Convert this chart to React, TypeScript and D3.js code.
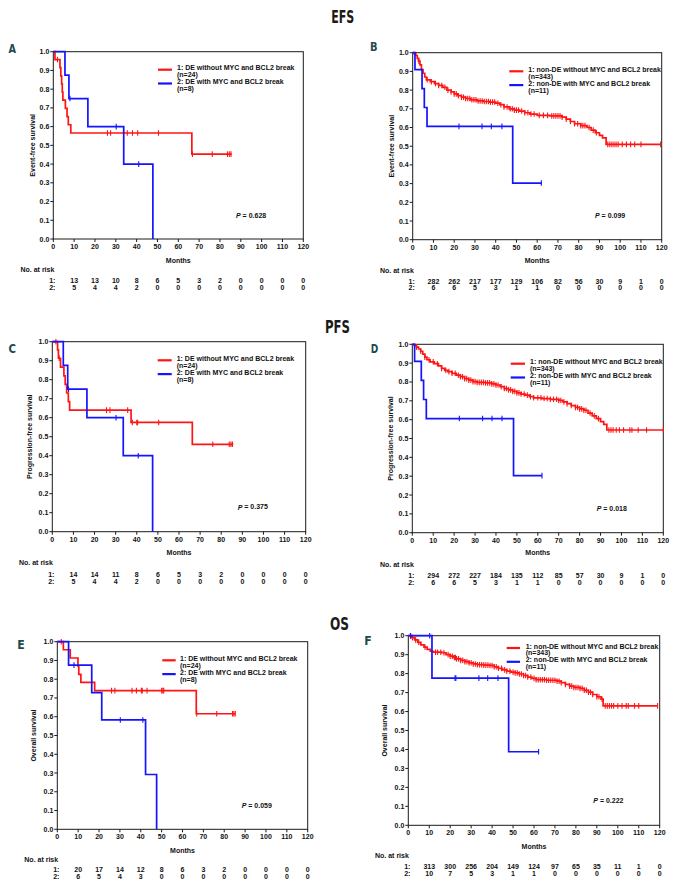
import React from "react";
import * as d3 from "d3";

type Pt = [number, number];

// ---------- shared ticks ----------
const xTicks = [0, 10, 20, 30, 40, 50, 60, 70, 80, 90, 100, 110, 120];
const yTicks = [0, 0.1, 0.2, 0.3, 0.4, 0.5, 0.6, 0.7, 0.8, 0.9, 1.0];
const riskTimes = [10, 20, 30, 40, 50, 60, 70, 80, 90, 100, 110, 120];

const sectionTitles = ["EFS", "PFS", "OS"];
const legendDE = ["1: DE without MYC and BCL2 break", "(n=24)", "2: DE with MYC and BCL2 break", "(n=8)"];
const legendNonDE = ["1: non-DE without MYC and BCL2 break", "(n=343)", "2: non-DE with MYC and BCL2 break", "(n=11)"];

// ---------- Panel A: EFS, DE ----------
const aRed: Pt[] = [[0, 1], [0.8, 0.958], [3.2, 0.915], [3.6, 0.871], [4.0, 0.828], [4.3, 0.784], [4.6, 0.741], [5.8, 0.697], [6.6, 0.653], [7.2, 0.61], [8.4, 0.566], [66.5, 0.453]];
const aRedEnd = 85.6;
const aRedCensor = [2, 26, 27.5, 35.5, 38, 40.5, 50.5, 66.8, 76.3, 83.6, 84.5, 85.3];
const aBlue: Pt[] = [[0, 1], [5.6, 0.875], [7.5, 0.75], [16.6, 0.6], [33.8, 0.4], [47.8, 0]];
const aBlueEnd = 47.8;
const aBlueCensor = [8, 30.2, 41];
const aRisk1 = [13, 13, 10, 8, 6, 5, 3, 2, 0, 0, 0, 0];
const aRisk2 = [5, 4, 4, 2, 0, 0, 0, 0, 0, 0, 0, 0];

// ---------- Panel B: EFS, non-DE ----------
const bRed: Pt[] = [[0, 1], [0.8, 0.994], [1.5, 0.985], [2.2, 0.97], [2.8, 0.955], [3.5, 0.935], [4.2, 0.91], [5, 0.89], [5.8, 0.87], [6.6, 0.855], [8.5, 0.845], [10.5, 0.835], [12.5, 0.825], [14.5, 0.815], [16.5, 0.8], [18.5, 0.79], [20, 0.78], [21.8, 0.77], [23.5, 0.762], [25.5, 0.755], [28, 0.748], [31, 0.742], [34, 0.739], [37, 0.736], [40, 0.73], [42, 0.722], [44, 0.71], [46.5, 0.7], [49, 0.693], [51.5, 0.688], [54, 0.679], [56.5, 0.672], [60, 0.665], [66, 0.662], [72, 0.655], [74, 0.645], [76, 0.632], [78, 0.62], [81, 0.61], [84, 0.6], [86, 0.586], [88, 0.572], [90, 0.558], [91.5, 0.545], [93.2, 0.51]];
const bRedEnd = 119.5;
const bRedCensor = [3, 7, 9, 11, 12.5, 14, 15.5, 17, 18.5, 20, 21, 22, 23.5, 24.5, 25.5, 26.5, 27.5, 28.5, 29.5, 30.5, 31.5, 32.5, 33.5, 34.5, 35.5, 36.5, 37.5, 38.5, 39.5, 41, 42.5, 44, 45.5, 47, 48, 49, 50, 51, 52.5, 54, 55.5, 57, 58.5, 61, 63, 65, 67, 68, 69, 70, 71, 72, 74, 76, 78, 79.5, 81, 82, 83, 85, 87, 88.5, 94, 95, 96, 97, 98, 99, 101, 103, 105, 107, 110, 119.5];
const bBlue: Pt[] = [[0, 1], [1.1, 0.909], [4.5, 0.808], [5.6, 0.707], [6.9, 0.606], [48.2, 0.303]];
const bBlueEnd = 62;
const bBlueCensor = [22.3, 33.4, 37.9, 43, 62];
const bRisk1 = [282, 262, 217, 177, 129, 106, 82, 56, 30, 9, 1, 0];
const bRisk2 = [6, 6, 5, 3, 1, 1, 0, 0, 0, 0, 0, 0];

// ---------- Panel C: PFS, DE ----------
const cRed: Pt[] = [[0, 1], [2.5, 0.957], [2.9, 0.913], [3.9, 0.866], [5.5, 0.82], [6.1, 0.775], [6.8, 0.73], [7.6, 0.685], [8.2, 0.64], [37.3, 0.575], [66.3, 0.46]];
const cRedEnd = 85.7;
const cRedCensor = [1.7, 3.3, 25.7, 27.3, 35.7, 37.9, 40, 40.4, 50.4, 76, 83.8, 84.6, 85.3];
const cBlue: Pt[] = [[0, 1], [5.2, 0.875], [7.3, 0.75], [16.4, 0.6], [33.6, 0.4], [47.5, 0]];
const cBlueEnd = 47.5;
const cBlueCensor = [7.7, 30.2, 40.7];
const cRisk1 = [14, 14, 11, 8, 6, 5, 3, 2, 0, 0, 0, 0];
const cRisk2 = [5, 4, 4, 2, 0, 0, 0, 0, 0, 0, 0, 0];

// ---------- Panel D: PFS, non-DE ----------
const dRed: Pt[] = [[0, 1], [1, 0.994], [2, 0.985], [3, 0.975], [4, 0.963], [5, 0.948], [6, 0.932], [7, 0.918], [8.5, 0.907], [10.5, 0.897], [12.5, 0.885], [14, 0.872], [15.5, 0.862], [17, 0.855], [19, 0.846], [21, 0.836], [23, 0.828], [25, 0.818], [27, 0.81], [29, 0.802], [31, 0.798], [35, 0.795], [38, 0.79], [40, 0.784], [42, 0.775], [44, 0.765], [46, 0.758], [48, 0.75], [50, 0.742], [52, 0.736], [54, 0.73], [56, 0.722], [58, 0.716], [62, 0.712], [66, 0.708], [70, 0.702], [72, 0.694], [74, 0.685], [76, 0.675], [78, 0.665], [80, 0.657], [82, 0.65], [84, 0.635], [86, 0.62], [88, 0.605], [90, 0.59], [91.5, 0.575], [93, 0.545]];
const dRedEnd = 120;
const dRedCensor = [2, 4, 6, 8, 10, 12, 14, 16, 17.5, 19, 20.5, 22, 23, 24, 25, 26, 27, 28, 29, 30, 31, 32, 33, 34, 35, 36, 37, 38, 39, 40, 41, 42.5, 44, 45, 46, 47, 48, 49, 50, 51, 52, 53.5, 55, 56.5, 58, 60, 61.5, 63, 64.5, 66, 67.5, 69, 70, 71, 72.5, 74, 76, 78, 79, 80, 81, 82, 83, 85, 87, 89, 94, 95, 96, 97.5, 99, 101, 104, 105, 108, 112, 120];
const dBlue: Pt[] = [[0, 1], [1.1, 0.909], [4.3, 0.808], [5.4, 0.707], [6.7, 0.606], [48.4, 0.303]];
const dBlueEnd = 62;
const dBlueCensor = [22.5, 33.6, 38.1, 42.9, 62];
const dRisk1 = [294, 272, 227, 184, 135, 112, 85, 57, 30, 9, 1, 0];
const dRisk2 = [6, 6, 5, 3, 1, 1, 0, 0, 0, 0, 0, 0];

// ---------- Panel E: OS, DE ----------
const eRed: Pt[] = [[0, 1], [2.9, 0.957], [6.2, 0.913], [9.9, 0.87], [10.3, 0.826], [11.3, 0.783], [17.9, 0.739], [66.6, 0.616]];
const eRedEnd = 85.3;
const eRedCensor = [1.9, 26, 27.6, 35.8, 37.9, 40.3, 40.7, 43, 50, 50.6, 51, 66.8, 76.4, 84, 84.6, 85.3];
const eBlue: Pt[] = [[0, 1], [5.4, 0.875], [16.5, 0.729], [21.3, 0.583], [42.3, 0.292], [47.6, 0]];
const eBlueEnd = 47.6;
const eBlueCensor = [8, 30.2, 41];
const eRisk1 = [20, 17, 14, 12, 8, 6, 3, 2, 0, 0, 0, 0];
const eRisk2 = [6, 5, 4, 3, 0, 0, 0, 0, 0, 0, 0, 0];

// ---------- Panel F: OS, non-DE ----------
const fRed: Pt[] = [[0, 1], [1.5, 0.99], [3, 0.978], [4.5, 0.965], [6, 0.952], [7.5, 0.94], [9, 0.928], [10.5, 0.918], [12, 0.913], [16, 0.91], [18, 0.9], [20, 0.892], [21.5, 0.885], [23, 0.878], [25, 0.87], [27, 0.863], [29, 0.857], [31, 0.851], [33, 0.847], [36, 0.845], [39, 0.843], [41, 0.836], [43, 0.828], [45, 0.82], [47, 0.813], [49, 0.808], [51, 0.804], [53, 0.798], [55, 0.79], [57, 0.782], [59, 0.775], [61, 0.768], [66, 0.765], [71, 0.76], [73, 0.752], [75, 0.743], [77, 0.734], [79, 0.727], [82, 0.722], [84, 0.712], [86, 0.702], [88, 0.69], [90, 0.678], [92, 0.665], [93, 0.63]];
const fRedEnd = 119;
const fRedCensor = [1, 2, 3.5, 5, 8, 13, 14, 15.5, 17, 19, 20, 21, 22, 22.5, 23, 24, 25, 26, 27, 28, 29, 30, 31, 32, 33, 34, 35, 36, 37, 38, 39, 40, 41, 42, 43, 44.5, 46, 47, 48.5, 50, 51, 52, 53, 54, 55, 56, 57, 58.5, 60, 61, 62, 63, 64, 65, 66, 67, 68, 69, 70, 71, 72, 73, 75, 77, 78, 79, 80, 81, 82, 83, 84, 85, 86, 87, 88, 90, 91, 92.5, 94, 95, 96, 97, 98, 100, 102, 104, 105, 108, 110, 119];
const fBlue: Pt[] = [[0, 1], [11.3, 0.776], [47.9, 0.388]];
const fBlueEnd = 62.2;
const fBlueCensor = [1.1, 10.2, 22.3, 22.7, 33.7, 37.9, 42.8, 62.2];
const fRisk1 = [313, 300, 256, 204, 149, 124, 97, 65, 35, 11, 1, 0];
const fRisk2 = [10, 7, 5, 3, 1, 1, 0, 0, 0, 0, 0, 0];

// ---------- layout ----------
const RED = "#ff1414";
const BLUE = "#1414ff";
const AXIS = "#1a1a1a";
const LETTER = "#1d4a4c";
const FONT = "'Liberation Sans', Arial, sans-serif";
const COND = "'DejaVu Sans Condensed', 'DejaVu Sans', sans-serif";

interface Panel {
  letter: string; lx: number; ly: number;
  left: number; top: number; right: number; bottom: number;
  yLabel: string; yLabelX: number;
  legend: string[]; legLineX1: number; legLineX2: number; legTextX: number; legY: number;
  pText: string; pX: number; pY: number;
  monthsY: number; riskTitleX: number; riskTitleY: number; risk1Y: number; risk2Y: number;
  red: Pt[]; redEnd: number; redCensor: number[];
  blue: Pt[]; blueEnd: number; blueCensor: number[];
  risk1: number[]; risk2: number[];
}

const panels: Panel[] = [
  { letter: "A", lx: 8.5, ly: 48, left: 53.3, top: 51.7, right: 303.3, bottom: 239, yLabel: "Event-free survival", yLabelX: 32,
    legend: legendDE, legLineX1: 158, legLineX2: 172, legTextX: 177, legY: 67.7, pText: "0.628", pX: 236, pY: 215,
    monthsY: 260, riskTitleX: 20.5, riskTitleY: 269.3, risk1Y: 280.7, risk2Y: 287.3,
    red: aRed, redEnd: aRedEnd, redCensor: aRedCensor, blue: aBlue, blueEnd: aBlueEnd, blueCensor: aBlueCensor, risk1: aRisk1, risk2: aRisk2 },
  { letter: "B", lx: 370, ly: 46.7, left: 412.7, top: 52.7, right: 661.7, bottom: 239.7, yLabel: "Event-free survival", yLabelX: 391,
    legend: legendNonDE, legLineX1: 509.3, legLineX2: 523.3, legTextX: 528.3, legY: 69.3, pText: "0.099", pX: 595, pY: 215,
    monthsY: 260, riskTitleX: 380, riskTitleY: 270, risk1Y: 281.3, risk2Y: 287.5,
    red: bRed, redEnd: bRedEnd, redCensor: bRedCensor, blue: bBlue, blueEnd: bBlueEnd, blueCensor: bBlueCensor, risk1: bRisk1, risk2: bRisk2 },
  { letter: "C", lx: 8.5, ly: 348, left: 52.3, top: 341.7, right: 305.7, bottom: 531.7, yLabel: "Progression-free survival", yLabelX: 29,
    legend: legendDE, legLineX1: 157.7, legLineX2: 171.7, legTextX: 176.7, legY: 358.3, pText: "0.375", pX: 237.7, pY: 506.7,
    monthsY: 552.7, riskTitleX: 19, riskTitleY: 562.3, risk1Y: 574.3, risk2Y: 581,
    red: cRed, redEnd: cRedEnd, redCensor: cRedCensor, blue: cBlue, blueEnd: cBlueEnd, blueCensor: cBlueCensor, risk1: cRisk1, risk2: cRisk2 },
  { letter: "D", lx: 370.7, ly: 348, left: 412.3, top: 344.3, right: 663.3, bottom: 532.7, yLabel: "Progression-free survival", yLabelX: 390,
    legend: legendNonDE, legLineX1: 510.7, legLineX2: 525, legTextX: 530, legY: 361.7, pText: "0.018", pX: 596.7, pY: 508.3,
    monthsY: 552.7, riskTitleX: 380, riskTitleY: 564, risk1Y: 575, risk2Y: 582,
    red: dRed, redEnd: dRedEnd, redCensor: dRedCensor, blue: dBlue, blueEnd: dBlueEnd, blueCensor: dBlueCensor, risk1: dRisk1, risk2: dRisk2 },
  { letter: "E", lx: 17.3, ly: 644.3, left: 57.3, top: 641.7, right: 307.7, bottom: 829.3, yLabel: "Overall survival", yLabelX: 33,
    legend: legendDE, legLineX1: 162.3, legLineX2: 175.7, legTextX: 180, legY: 658.3, pText: "0.059", pX: 241.7, pY: 805,
    monthsY: 850, riskTitleX: 24.3, riskTitleY: 859.3, risk1Y: 869, risk2Y: 876.7,
    red: eRed, redEnd: eRedEnd, redCensor: eRedCensor, blue: eBlue, blueEnd: eBlueEnd, blueCensor: eBlueCensor, risk1: eRisk1, risk2: eRisk2 },
  { letter: "F", lx: 364.3, ly: 640.7, left: 408.3, top: 635.7, right: 659.7, bottom: 825.3, yLabel: "Overall survival", yLabelX: 384,
    legend: legendNonDE, legLineX1: 506.7, legLineX2: 520, legTextX: 525.7, legY: 646, pText: "0.222", pX: 593.3, pY: 800,
    monthsY: 846, riskTitleX: 375, riskTitleY: 855.3, risk1Y: 866.7, risk2Y: 873.3,
    red: fRed, redEnd: fRedEnd, redCensor: fRedCensor, blue: fBlue, blueEnd: fBlueEnd, blueCensor: fBlueCensor, risk1: fRisk1, risk2: fRisk2 },
];

const titlePos = [
  { x: 342.7, y: 16, w: 23 },
  { x: 337.5, y: 326.7, w: 25 },
  { x: 339.5, y: 623.3, w: 19 },
];

function survAt(steps: Pt[], t: number): number {
  let s = steps[0][1];
  for (const [tt, v] of steps) {
    if (tt <= t) s = v;
    else break;
  }
  return s;
}

function Curve({ steps, end, censor, color, x, y }: { steps: Pt[]; end: number; censor: number[]; color: string; x: d3.ScaleLinear<number, number>; y: d3.ScaleLinear<number, number> }) {
  const last = steps[steps.length - 1];
  const pts: Pt[] = last[1] === 0 ? steps : [...steps, [end, last[1]]];
  const line = d3.line<Pt>().x((d) => x(d[0])).y((d) => y(d[1])).curve(d3.curveStepAfter);
  return (
    <g>
      <path d={line(pts) || ""} fill="none" stroke={color} strokeWidth={1.7} />
      {censor.map((t, i) => {
        const cx = x(t);
        const cy = y(survAt(steps, t));
        return <line key={i} x1={cx} x2={cx} y1={cy - 2.8} y2={cy + 2.8} stroke={color} strokeWidth={1.1} />;
      })}
    </g>
  );
}

function KMPanel({ p }: { p: Panel }) {
  const x = d3.scaleLinear().domain([0, 120]).range([p.left, p.right]);
  const y = d3.scaleLinear().domain([0, 1]).range([p.bottom, p.top]);
  const cx = (p.left + p.right) / 2;
  const cy = (p.top + p.bottom) / 2;
  const fmt = d3.format(".1f");
  const lh = 6.9;
  return (
    <g fontFamily={FONT} fontWeight="bold" fontSize={7} fill="#111">
      <text x={p.lx} y={p.ly} dominantBaseline="central" fontFamily={COND} fontSize={13} fontWeight="bold" fill={LETTER} textLength={7.5} lengthAdjust="spacingAndGlyphs">{p.letter}</text>
      <rect x={p.left} y={p.top} width={p.right - p.left} height={p.bottom - p.top} fill="none" stroke={AXIS} strokeWidth={1} />
      {yTicks.map((t) => (
        <g key={"y" + t}>
          <line x1={p.left - 3} x2={p.left} y1={y(t)} y2={y(t)} stroke={AXIS} strokeWidth={1} />
          <text x={p.left - 4} y={y(t)} textAnchor="end" dominantBaseline="central">{fmt(t)}</text>
        </g>
      ))}
      {xTicks.map((t) => (
        <g key={"x" + t}>
          <line x1={x(t)} x2={x(t)} y1={p.bottom} y2={p.bottom + 3} stroke={AXIS} strokeWidth={1} />
          <text x={x(t)} y={p.bottom + 7.5} textAnchor="middle" dominantBaseline="central">{t}</text>
        </g>
      ))}
      <text transform={`translate(${p.yLabelX},${cy}) rotate(-90)`} textAnchor="middle" dominantBaseline="central">{p.yLabel}</text>
      <text x={cx} y={p.monthsY} textAnchor="middle" dominantBaseline="central">Months</text>

      <Curve steps={p.red} end={p.redEnd} censor={p.redCensor} color={RED} x={x} y={y} />
      <Curve steps={p.blue} end={p.blueEnd} censor={p.blueCensor} color={BLUE} x={x} y={y} />

      <line x1={p.legLineX1} x2={p.legLineX2} y1={p.legY + 2} y2={p.legY + 2} stroke={RED} strokeWidth={2.2} />
      <line x1={p.legLineX1} x2={p.legLineX2} y1={p.legY + 2 * lh + 2} y2={p.legY + 2 * lh + 2} stroke={BLUE} strokeWidth={2.2} />
      {p.legend.map((s, i) => (
        <text key={i} x={p.legTextX} y={p.legY + i * lh} dominantBaseline="central">{s}</text>
      ))}

      <text x={p.pX} y={p.pY} dominantBaseline="central">
        <tspan fontStyle="italic">P</tspan> = {p.pText}
      </text>

      <text x={p.riskTitleX} y={p.riskTitleY} dominantBaseline="central">No. at risk</text>
      <text x={x(0) - 1} y={p.risk1Y} textAnchor="middle" dominantBaseline="central">1:</text>
      <text x={x(0) - 1} y={p.risk2Y} textAnchor="middle" dominantBaseline="central">2:</text>
      {riskTimes.map((t, i) => (
        <g key={"r" + t}>
          <text x={x(t)} y={p.risk1Y} textAnchor="middle" dominantBaseline="central">{p.risk1[i]}</text>
          <text x={x(t)} y={p.risk2Y} textAnchor="middle" dominantBaseline="central">{p.risk2[i]}</text>
        </g>
      ))}
    </g>
  );
}

export default function App() {
  return (
    <svg width={675} height={893} viewBox="0 0 675 893" style={{ position: "absolute", left: 0, top: 0, background: "#fff" }}>
      <rect x={0} y={0} width={675} height={893} fill="#fff" />
      {sectionTitles.map((s, i) => (
        <text key={s} x={titlePos[i].x} y={titlePos[i].y} textAnchor="middle" dominantBaseline="central" fontFamily={COND} fontWeight="bold" fontSize={18} fill="#1a1a1a" textLength={titlePos[i].w} lengthAdjust="spacingAndGlyphs">{s}</text>
      ))}
      {panels.map((p) => (
        <KMPanel key={p.letter} p={p} />
      ))}
    </svg>
  );
}
